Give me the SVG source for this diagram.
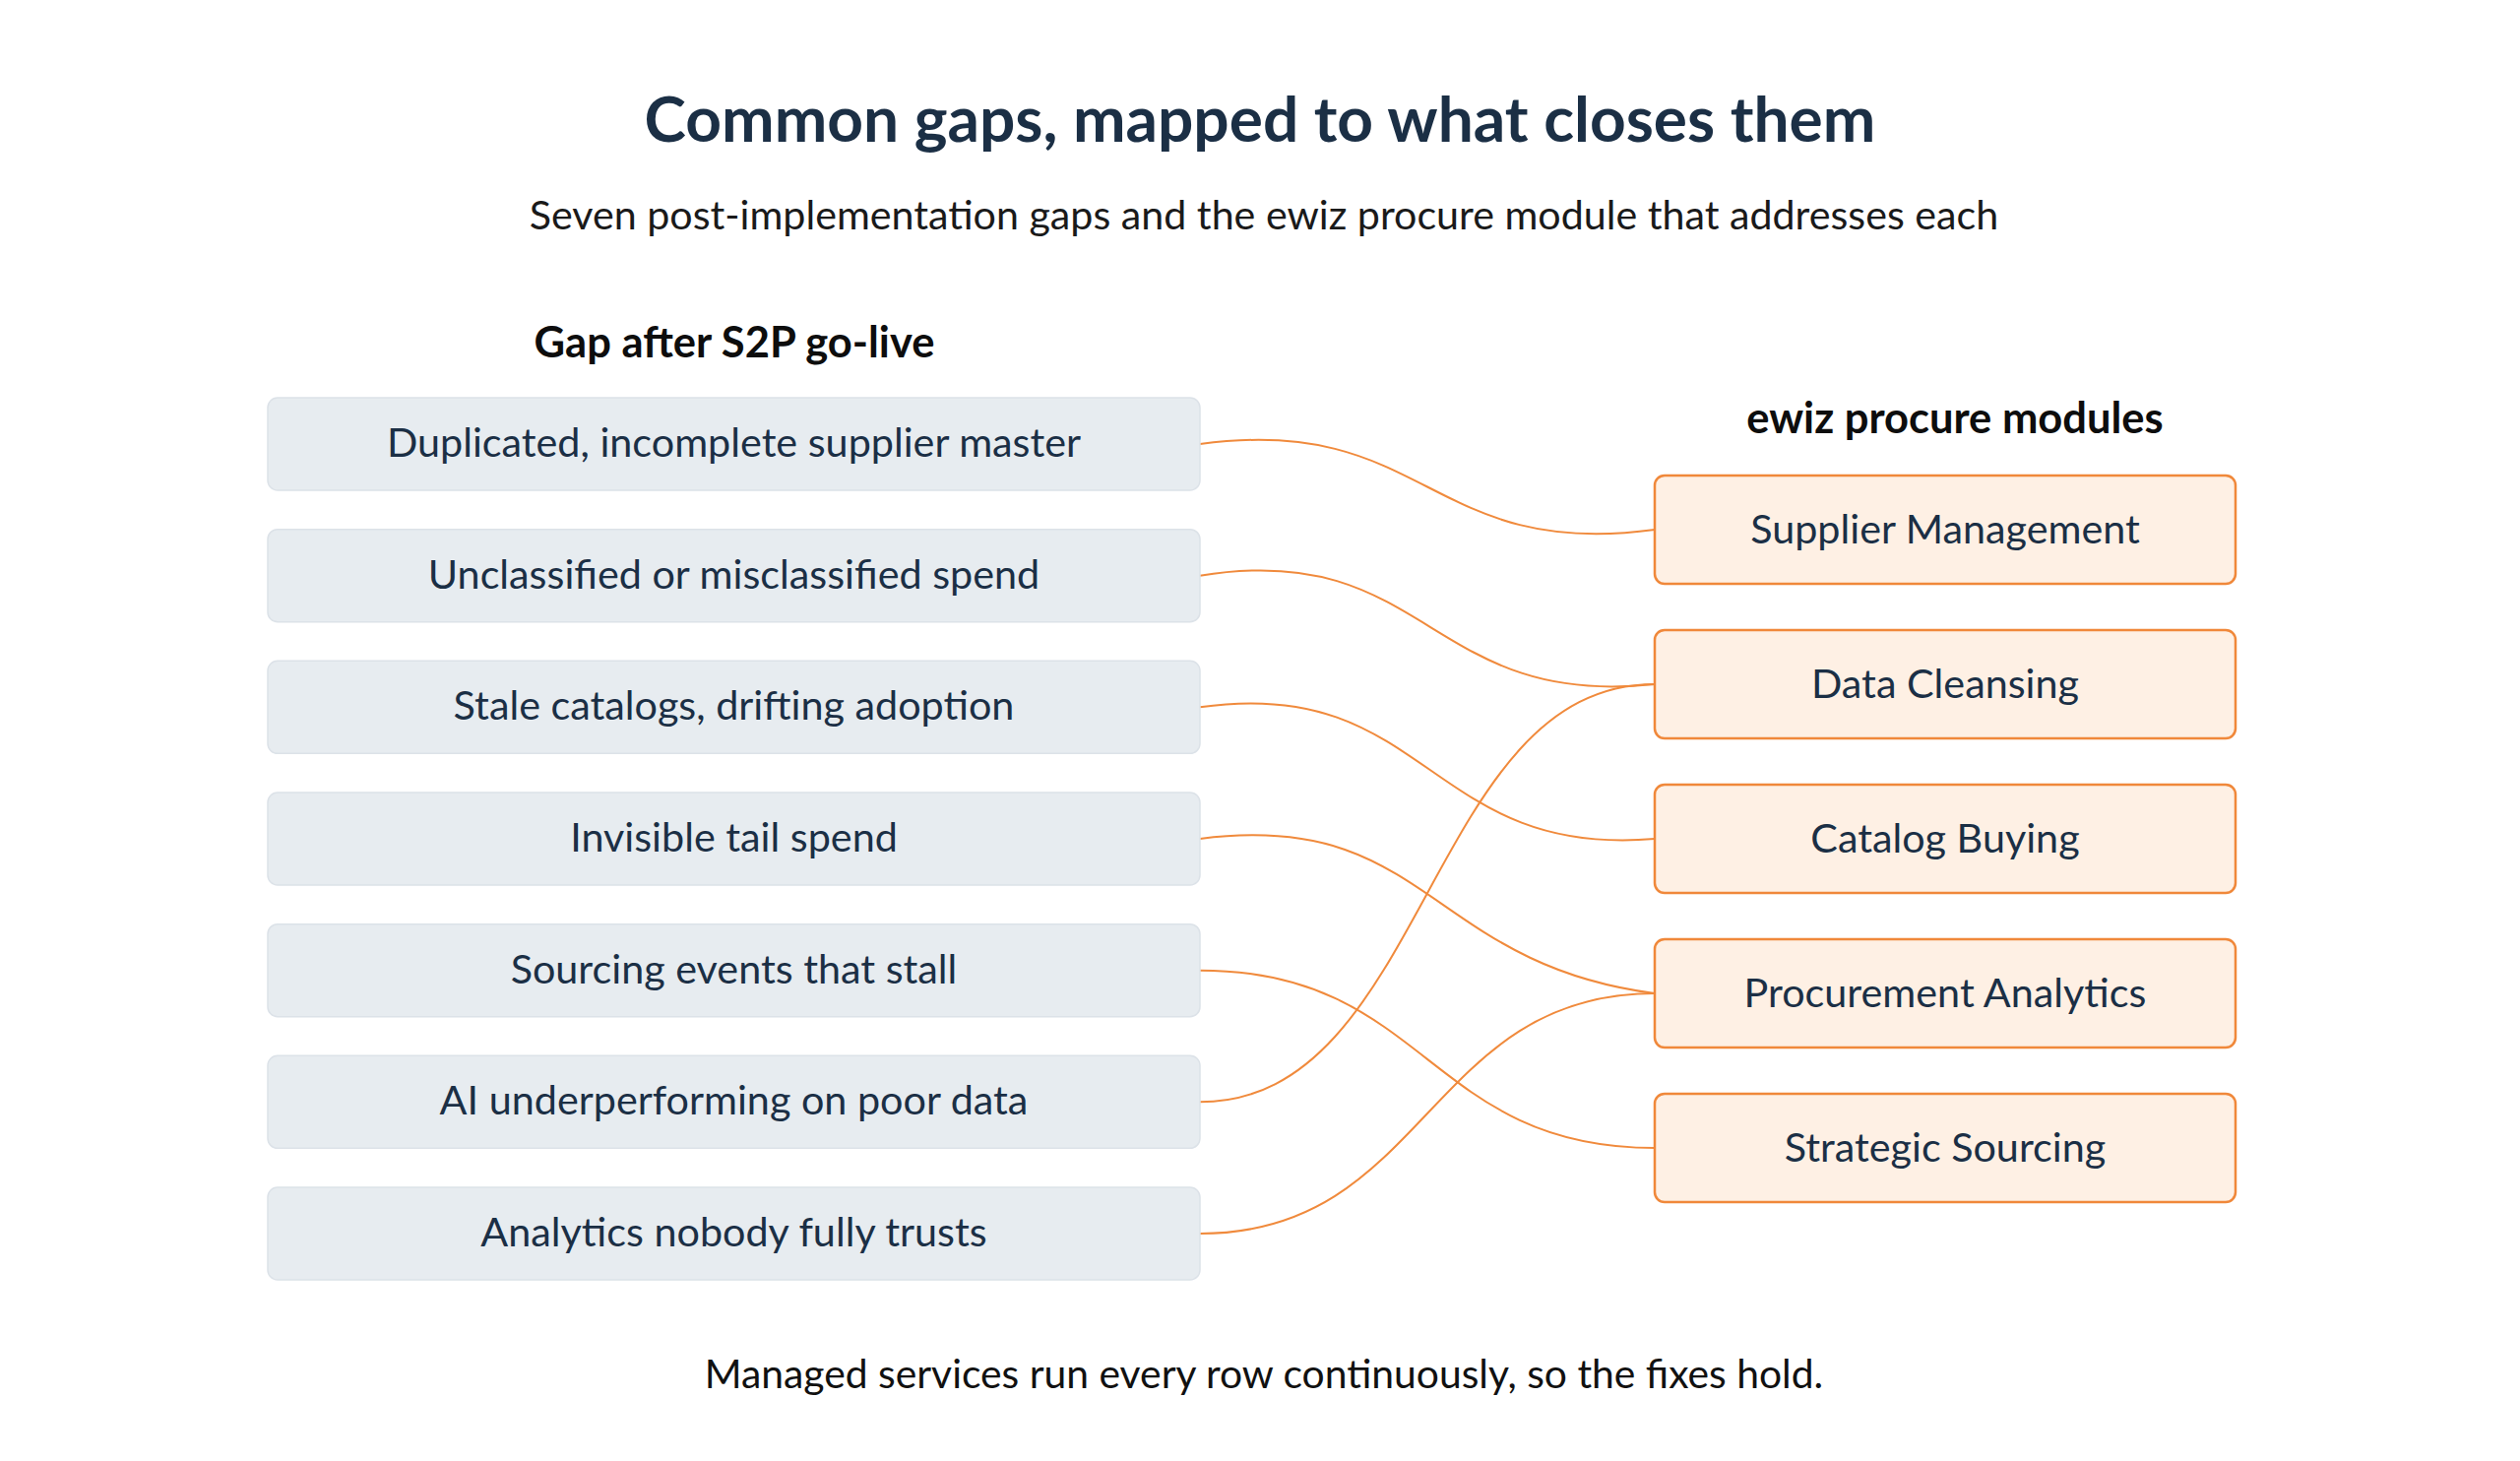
<svg xmlns="http://www.w3.org/2000/svg" width="2560" height="1484" viewBox="0 0 2560 1484">
<style>
.title{font-family:Lato,"Open Sans","Liberation Sans",sans-serif;font-weight:700;font-size:64px;fill:#1B2F45;text-anchor:middle}
.sub{font-family:Lato,"Open Sans","Liberation Sans",sans-serif;font-size:41.2px;fill:#1a1a1a;text-anchor:middle}
.head{font-family:Lato,"Open Sans","Liberation Sans",sans-serif;font-weight:700;font-size:43.5px;fill:#0d0d0d;text-anchor:middle}
.gap rect{fill:#E7ECF0;stroke:#DCE2E8;stroke-width:1.5}
.mod rect{fill:#FEF0E4;stroke:#F0883A;stroke-width:2.5}
.lbl{font-family:Lato,"Open Sans","Liberation Sans",sans-serif;font-size:41.3px;fill:#1B2F45;text-anchor:middle}
.foot{font-family:Lato,"Open Sans","Liberation Sans",sans-serif;font-size:40.8px;fill:#111;text-anchor:middle}
.conn path{fill:none;stroke:#F08A3C;stroke-width:2}
</style>
<rect width="2560" height="1484" fill="#ffffff"/>
<text class="title" x="1280" y="144">Common gaps, mapped to what closes them</text>
<text class="sub" x="1284" y="233">Seven post-implementation gaps and the ewiz procure module that addresses each</text>
<text class="head" x="746" y="363">Gap after S2P go-live</text>
<text class="head" x="1986" y="440">ewiz procure modules</text>

<g class="conn" id="connectors">
<path d="M1219,451 C1450,420 1450,569 1681,538"/>
<path d="M1219,584.7 C1450,547 1450,720 1681,695"/>
<path d="M1219,718.3 C1450,685 1450,872 1681,852"/>
<path d="M1219,852 C1450,822 1450,979 1681,1009"/>
<path d="M1219,985.7 C1450,985.7 1450,1166 1681,1166"/>
<path d="M1219,1119.3 C1450,1119.3 1450,695 1681,695"/>
<path d="M1219,1253 C1450,1253 1450,1009 1681,1009"/>
</g>

<g class="gap" id="gap1"><rect x="272" y="404" width="947" height="94" rx="10"/><text class="lbl" x="745.5" y="464">Duplicated, incomplete supplier master</text></g>
<g class="gap" id="gap2"><rect x="272" y="537.7" width="947" height="94" rx="10"/><text class="lbl" x="745.5" y="597.7">Unclassified or misclassified spend</text></g>
<g class="gap" id="gap3"><rect x="272" y="671.3" width="947" height="94" rx="10"/><text class="lbl" x="745.5" y="731.3">Stale catalogs, drifting adoption</text></g>
<g class="gap" id="gap4"><rect x="272" y="805" width="947" height="94" rx="10"/><text class="lbl" x="745.5" y="865">Invisible tail spend</text></g>
<g class="gap" id="gap5"><rect x="272" y="938.7" width="947" height="94" rx="10"/><text class="lbl" x="745.5" y="998.7">Sourcing events that stall</text></g>
<g class="gap" id="gap6"><rect x="272" y="1072.3" width="947" height="94" rx="10"/><text class="lbl" x="745.5" y="1132.3">AI underperforming on poor data</text></g>
<g class="gap" id="gap7"><rect x="272" y="1206" width="947" height="94" rx="10"/><text class="lbl" x="745.5" y="1266">Analytics nobody fully trusts</text></g>

<g class="mod" id="mod1"><rect x="1681" y="483" width="590" height="110" rx="10"/><text class="lbl" x="1976" y="552">Supplier Management</text></g>
<g class="mod" id="mod2"><rect x="1681" y="640" width="590" height="110" rx="10"/><text class="lbl" x="1976" y="709">Data Cleansing</text></g>
<g class="mod" id="mod3"><rect x="1681" y="797" width="590" height="110" rx="10"/><text class="lbl" x="1976" y="866">Catalog Buying</text></g>
<g class="mod" id="mod4"><rect x="1681" y="954" width="590" height="110" rx="10"/><text class="lbl" x="1976" y="1023">Procurement Analytics</text></g>
<g class="mod" id="mod5"><rect x="1681" y="1111" width="590" height="110" rx="10"/><text class="lbl" x="1976" y="1180">Strategic Sourcing</text></g>

<text class="foot" x="1284" y="1410">Managed services run every row continuously, so the fixes hold.</text>
</svg>
